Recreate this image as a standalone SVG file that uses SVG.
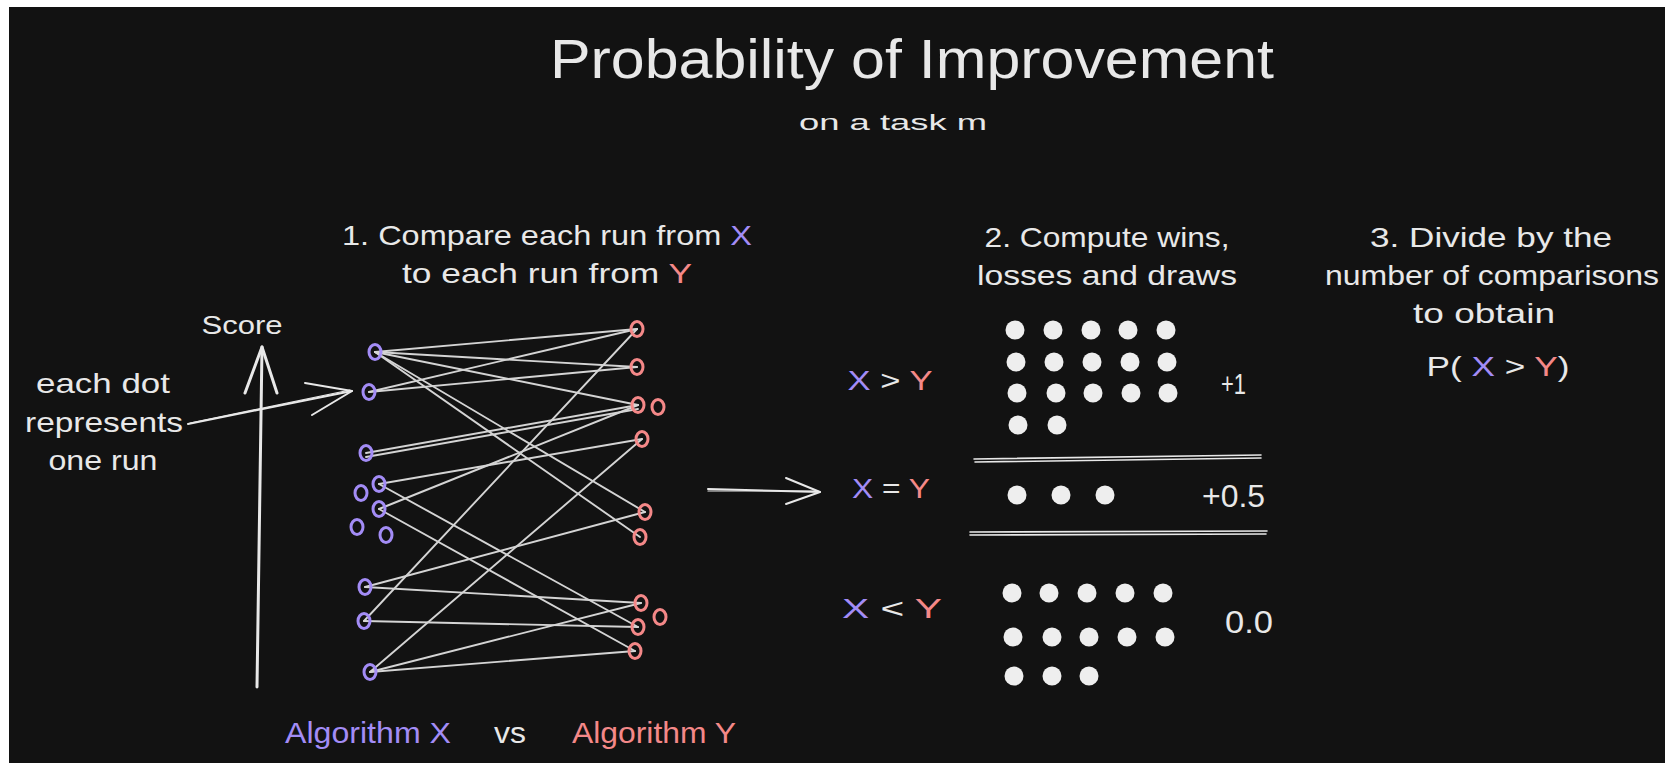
<svg xmlns="http://www.w3.org/2000/svg" width="1665" height="763" viewBox="0 0 1665 763">
<defs>
<style>
.t{font-family:"Liberation Sans",Arial,sans-serif;fill:#e8e8e8;}
.px{fill:#a38cf6;}
.py{fill:#f48888;}
.xd{fill:none;stroke:#a38cf6;stroke-width:3;}
.yd{fill:none;stroke:#f48888;stroke-width:3;}
.ln{stroke:#d4d4d4;stroke-width:1.9;fill:none;stroke-linecap:round;}
.ar{stroke:#e8e8e8;fill:none;stroke-linecap:round;stroke-linejoin:round;}
.dot{fill:#eeeeee;}
</style>
</defs>
<rect x="0" y="0" width="1665" height="763" fill="#ffffff"/>
<rect x="9" y="7" width="1656" height="756" fill="#121212"/>

<g id="title">
<text class="t" x="912" y="78" font-size="56" text-anchor="middle" textLength="724" lengthAdjust="spacingAndGlyphs">Probability of Improvement</text>
<text class="t" x="893" y="130" font-size="22" text-anchor="middle" textLength="188" lengthAdjust="spacingAndGlyphs">on a task m</text>
</g>

<g id="step1">
<text class="t" x="547" y="245" font-size="28" text-anchor="middle" textLength="410" lengthAdjust="spacingAndGlyphs">1. Compare each run from <tspan class="px">X</tspan></text>
<text class="t" x="547" y="283" font-size="28" text-anchor="middle" textLength="290" lengthAdjust="spacingAndGlyphs">to each run from <tspan class="py">Y</tspan></text>
</g>

<g id="step2">
<text class="t" x="1107" y="247" font-size="28" text-anchor="middle" textLength="245" lengthAdjust="spacingAndGlyphs">2. Compute wins,</text>
<text class="t" x="1107" y="285" font-size="28" text-anchor="middle" textLength="260" lengthAdjust="spacingAndGlyphs">losses and draws</text>
</g>

<g id="step3">
<text class="t" x="1491" y="247" font-size="28" text-anchor="middle" textLength="242" lengthAdjust="spacingAndGlyphs">3. Divide by the</text>
<text class="t" x="1492" y="285" font-size="28" text-anchor="middle" textLength="334" lengthAdjust="spacingAndGlyphs">number of comparisons</text>
<text class="t" x="1484" y="323" font-size="28" text-anchor="middle" textLength="142" lengthAdjust="spacingAndGlyphs">to obtain</text>
<text class="t" x="1498" y="376" font-size="28" text-anchor="middle" textLength="143" lengthAdjust="spacingAndGlyphs">P( <tspan class="px">X</tspan> &gt; <tspan class="py">Y</tspan>)</text>
</g>

<g id="annotation">
<text class="t" x="103" y="393" font-size="28" text-anchor="middle" textLength="134" lengthAdjust="spacingAndGlyphs">each dot</text>
<text class="t" x="104" y="432" font-size="28" text-anchor="middle" textLength="158" lengthAdjust="spacingAndGlyphs">represents</text>
<text class="t" x="103" y="470" font-size="28" text-anchor="middle" textLength="109" lengthAdjust="spacingAndGlyphs">one run</text>
</g>

<g id="score-axis">
<text class="t" x="242" y="334" font-size="25" text-anchor="middle" textLength="81" lengthAdjust="spacingAndGlyphs">Score</text>
<line class="ar" x1="257" y1="687" x2="262" y2="347" stroke-width="3"/>
<polyline class="ar" points="245,393 262,347 277,393" stroke-width="3"/>
</g>

<g id="connectors">
<line class="ar" x1="188" y1="424" x2="352" y2="391" stroke-width="2"/>
<line class="ar" x1="190" y1="423" x2="350" y2="390" stroke-width="1.2"/>
<polyline class="ar" points="305,383 352,391 312,415" stroke-width="2"/>
<line class="ar" x1="708" y1="489" x2="820" y2="492" stroke-width="2"/>
<line class="ar" x1="708" y1="491" x2="818" y2="491" stroke-width="1.2"/>
<polyline class="ar" points="786,478 820,492 786,504" stroke-width="2"/>
<g id="comparisons">
<line class="ln" x1="375" y1="352" x2="637" y2="329"/>
<line class="ln" x1="375" y1="352" x2="637" y2="367"/>
<line class="ln" x1="375" y1="352" x2="638" y2="405"/>
<line class="ln" x1="375" y1="352" x2="645" y2="512"/>
<line class="ln" x1="375" y1="352" x2="640" y2="537"/>
<line class="ln" x1="369" y1="392" x2="637" y2="329"/>
<line class="ln" x1="369" y1="392" x2="637" y2="367"/>
<line class="ln" x1="366" y1="453" x2="638" y2="405"/>
<line class="ln" x1="366" y1="457" x2="638" y2="409"/>
<line class="ln" x1="379" y1="484" x2="642" y2="439"/>
<line class="ln" x1="379" y1="484" x2="638" y2="627"/>
<line class="ln" x1="379" y1="509" x2="638" y2="405"/>
<line class="ln" x1="379" y1="509" x2="635" y2="651"/>
<line class="ln" x1="365" y1="587" x2="645" y2="512"/>
<line class="ln" x1="365" y1="587" x2="641" y2="603"/>
<line class="ln" x1="364" y1="621" x2="637" y2="329"/>
<line class="ln" x1="364" y1="621" x2="638" y2="627"/>
<line class="ln" x1="370" y1="672" x2="642" y2="439"/>
<line class="ln" x1="370" y1="672" x2="641" y2="603"/>
<line class="ln" x1="370" y1="672" x2="635" y2="651"/>
</g>
</g>

<g id="algorithm-x">
<ellipse class="xd" cx="375" cy="352" rx="6" ry="7.5"/>
<ellipse class="xd" cx="369" cy="392" rx="6" ry="7.5"/>
<ellipse class="xd" cx="366" cy="453" rx="6" ry="7.5"/>
<ellipse class="xd" cx="379" cy="484" rx="6" ry="7.5"/>
<ellipse class="xd" cx="361" cy="493" rx="6" ry="7.5"/>
<ellipse class="xd" cx="379" cy="509" rx="6" ry="7.5"/>
<ellipse class="xd" cx="357" cy="527" rx="6" ry="7.5"/>
<ellipse class="xd" cx="386" cy="535" rx="6" ry="7.5"/>
<ellipse class="xd" cx="365" cy="587" rx="6" ry="7.5"/>
<ellipse class="xd" cx="364" cy="621" rx="6" ry="7.5"/>
<ellipse class="xd" cx="370" cy="672" rx="6" ry="7.5"/>
</g>

<g id="algorithm-y">
<ellipse class="yd" cx="637" cy="329" rx="6" ry="7.5"/>
<ellipse class="yd" cx="637" cy="367" rx="6" ry="7.5"/>
<ellipse class="yd" cx="638" cy="405" rx="6" ry="7.5"/>
<ellipse class="yd" cx="658" cy="407" rx="6" ry="7.5"/>
<ellipse class="yd" cx="642" cy="439" rx="6" ry="7.5"/>
<ellipse class="yd" cx="645" cy="512" rx="6" ry="7.5"/>
<ellipse class="yd" cx="640" cy="537" rx="6" ry="7.5"/>
<ellipse class="yd" cx="641" cy="603" rx="6" ry="7.5"/>
<ellipse class="yd" cx="660" cy="617" rx="6" ry="7.5"/>
<ellipse class="yd" cx="638" cy="627" rx="6" ry="7.5"/>
<ellipse class="yd" cx="635" cy="651" rx="6" ry="7.5"/>
</g>

<g id="labels-bottom">
<text class="t px" x="285" y="743" font-size="30" textLength="166" lengthAdjust="spacingAndGlyphs">Algorithm X</text>
<text class="t" x="494" y="743" font-size="30" textLength="32" lengthAdjust="spacingAndGlyphs">vs</text>
<text class="t py" x="572" y="743" font-size="30" textLength="164" lengthAdjust="spacingAndGlyphs">Algorithm Y</text>
</g>

<g id="wins">
<text class="t" x="890" y="390" font-size="28" text-anchor="middle" textLength="85" lengthAdjust="spacingAndGlyphs"><tspan class="px">X</tspan> &gt; <tspan class="py">Y</tspan></text>
<circle class="dot" cx="1015" cy="330" r="9.5"/><circle class="dot" cx="1053" cy="330" r="9.5"/><circle class="dot" cx="1091" cy="330" r="9.5"/><circle class="dot" cx="1128" cy="330" r="9.5"/><circle class="dot" cx="1166" cy="330" r="9.5"/>
<circle class="dot" cx="1016" cy="362" r="9.5"/><circle class="dot" cx="1054" cy="362" r="9.5"/><circle class="dot" cx="1092" cy="362" r="9.5"/><circle class="dot" cx="1130" cy="362" r="9.5"/><circle class="dot" cx="1167" cy="362" r="9.5"/>
<circle class="dot" cx="1017" cy="393" r="9.5"/><circle class="dot" cx="1056" cy="393" r="9.5"/><circle class="dot" cx="1093" cy="393" r="9.5"/><circle class="dot" cx="1131" cy="393" r="9.5"/><circle class="dot" cx="1168" cy="393" r="9.5"/>
<circle class="dot" cx="1018" cy="425" r="9.5"/><circle class="dot" cx="1057" cy="425" r="9.5"/>
<text class="t" x="1221" y="394" font-size="29" textLength="25" lengthAdjust="spacingAndGlyphs">+1</text>
</g>

<g id="separators">
<line class="ar" x1="974" y1="459" x2="1261" y2="455" stroke-width="1.6"/>
<line class="ar" x1="975" y1="462" x2="1261" y2="458" stroke-width="1.6"/>
<line class="ar" x1="970" y1="532" x2="1267" y2="531" stroke-width="1.6"/>
<line class="ar" x1="970" y1="535" x2="1266" y2="534" stroke-width="1.6"/>
</g>

<g id="draws">
<text class="t" x="891" y="498" font-size="28" text-anchor="middle" textLength="78" lengthAdjust="spacingAndGlyphs"><tspan class="px">X</tspan> = <tspan class="py">Y</tspan></text>
<circle class="dot" cx="1017" cy="495" r="9.5"/><circle class="dot" cx="1061" cy="495" r="9.5"/><circle class="dot" cx="1105" cy="495" r="9.5"/>
<text class="t" x="1202" y="507" font-size="31" textLength="63" lengthAdjust="spacingAndGlyphs">+0.5</text>
</g>

<g id="losses">
<text class="t" x="892" y="618" font-size="28" text-anchor="middle" textLength="100" lengthAdjust="spacingAndGlyphs"><tspan class="px">X</tspan> &lt; <tspan class="py">Y</tspan></text>
<circle class="dot" cx="1012" cy="593" r="9.5"/><circle class="dot" cx="1049" cy="593" r="9.5"/><circle class="dot" cx="1087" cy="593" r="9.5"/><circle class="dot" cx="1125" cy="593" r="9.5"/><circle class="dot" cx="1163" cy="593" r="9.5"/>
<circle class="dot" cx="1013" cy="637" r="9.5"/><circle class="dot" cx="1052" cy="637" r="9.5"/><circle class="dot" cx="1089" cy="637" r="9.5"/><circle class="dot" cx="1127" cy="637" r="9.5"/><circle class="dot" cx="1165" cy="637" r="9.5"/>
<circle class="dot" cx="1014" cy="676" r="9.5"/><circle class="dot" cx="1052" cy="676" r="9.5"/><circle class="dot" cx="1089" cy="676" r="9.5"/>
<text class="t" x="1225" y="633" font-size="31" textLength="48" lengthAdjust="spacingAndGlyphs">0.0</text>
</g>
</svg>
